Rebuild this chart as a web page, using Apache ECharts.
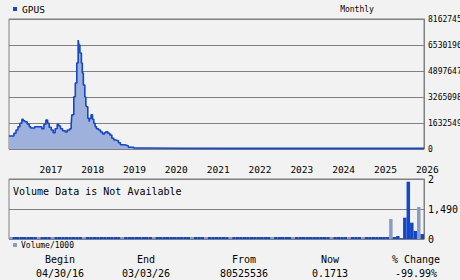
<!DOCTYPE html>
<html><head><meta charset="utf-8">
<script src="https://cdn.jsdelivr.net/npm/echarts@6/dist/echarts.min.js"></script>
<style>html,body{margin:0;padding:0;background:#f2f2f2;}#c{width:460px;height:280px;}</style>
</head><body><div id="c"></div>
<script>
// ---- data ----
const priceDates = ['2016-04-06','2016-05-19','2016-06-06','2016-06-23','2016-07-10','2016-07-28','2016-08-08','2016-08-23','2016-09-12','2016-09-30','2016-10-12','2016-11-16','2017-01-18','2017-02-05','2017-02-22','2017-03-09','2017-03-23','2017-04-10','2017-04-27','2017-05-14','2017-06-01','2017-06-13','2017-06-30','2017-07-18','2017-08-10','2017-08-27','2017-09-19','2017-10-01','2017-10-07','2017-10-24','2017-11-06','2017-11-19','2017-12-01','2017-12-07','2017-12-16','2017-12-29','2018-01-06','2018-01-15','2018-01-28','2018-02-06','2018-02-12','2018-02-23','2018-03-07','2018-03-13','2018-03-24','2018-04-05','2018-04-16','2018-04-28','2018-05-10','2018-05-28','2018-06-14','2018-07-02','2018-07-19','2018-07-30','2018-08-17','2018-09-03','2018-09-21','2018-10-08','2018-10-25','2018-11-18','2018-12-05','2019-01-10','2019-01-27','2019-02-13','2019-04-01','2019-08-01','2020-06-01','2021-06-01','2022-06-01','2023-06-01','2024-06-01','2025-06-01','2026-03-09'];
const priceValues = [8160000,9860000,11930000,14000000,16140000,18650000,17770000,17140000,15700000,14000000,13190000,14000000,12750000,15510000,18210000,16140000,13630000,11930000,10230000,12750000,15510000,14440000,12750000,11490000,10670000,11930000,12750000,15700000,21540000,32840000,41440000,54000000,68440000,65300000,60280000,54000000,47720000,40190000,32650000,27630000,26560000,19280000,17140000,19280000,21540000,18650000,16140000,14000000,12750000,11930000,10670000,9420000,10230000,10860000,9860000,8790000,6720000,5650000,5210000,3960000,2700000,2320000,1880000,1070000,600000,450000,400000,400000,400000,400000,400000,400000,400000];
const priceTicks = [0, 16325490, 32650980, 48976470, 65301960, 81627450];

const volumeStart = [2016, 4];   // first month of volume bars
const volumeValues = [
 100,100,100,100,100,100,100,100,100,100,100,100,
 100,100,100,100,100,100,100,100,100,100,100,100,
 100,100,100,100,100,100,100,100,100,100,100,100,
 100,100,100,100,100,100,100,100,100,100,100,100,
 100,100,100,100,100,100,100,100,100,100,100,100,
 100,100,100,100,100,100,100,100,100,100,100,100,
 100,100,100,100,100,100,100,100,100,100,100,100,
 100,100,100,100,100,100,100,100,100,100,100,100,
 100,100,100,100,100,100,100,100,100,100,100,100,
 100,993,100,149,40,1058,2846,810,397,1589,248];
const volumeDownMonths = ['2016-04','2016-12','2017-04','2018-01','2018-12','2019-09','2020-08','2020-12','2021-07','2022-07','2023-01','2023-12','2024-05','2024-09','2025-05','2026-01'];
const volumeTicks = [0, 1490, 2980];
const volumeTickLabels = ['0', '1,490', '2'];

const stats = [
  ['Begin', '04/30/16'],
  ['End', '03/03/26'],
  ['From', '80525536'],
  ['Now', '0.1713'],
  ['% Change', '-99.99%']
];
const statCenters = [60, 146, 244, 330, 416];

// ---- build ----
const BLUE = '#1446c8', AREA = '#9eb1dd', GRAYBAR = '#8a9bc6', GRID = '#808080';
const MONO = '"DejaVu Sans Mono", monospace';

const volumeMonths = [];
{
  let y = volumeStart[0], m = volumeStart[1];
  for (let i = 0; i < volumeValues.length; i++) {
    volumeMonths.push(y + '-' + String(m).padStart(2, '0'));
    m++; if (m > 12) { m = 1; y++; }
  }
}
const volData = volumeValues.map((v, i) => ({
  value: v,
  itemStyle: { color: volumeDownMonths.includes(volumeMonths[i]) ? GRAYBAR : BLUE }
}));

const chart = echarts.init(document.getElementById('c'), null, { renderer: 'svg' });
const YEAR = 365 * 24 * 3600 * 1000;

const graphics = [
  { type: 'rect', shape: { x: 13, y: 7, width: 4, height: 4 }, style: { fill: BLUE } },
  { type: 'text', x: 22, y: 9, style: { text: 'GPUS', font: '9.5px ' + MONO, fill: '#000', textVerticalAlign: 'middle' } },
  { type: 'text', x: 357, y: 9, style: { text: 'Monthly', font: '8px ' + MONO, fill: '#000', textAlign: 'center', textVerticalAlign: 'middle' } },
  { type: 'text', x: 13, y: 191, style: { text: 'Volume Data is Not Available', font: '10px ' + MONO, fill: '#000', textVerticalAlign: 'middle' } },
  { type: 'rect', shape: { x: 13, y: 243, width: 4, height: 4 }, style: { fill: GRAYBAR } },
  { type: 'text', x: 21, y: 245.5, style: { text: 'Volume/1000', font: '8px ' + MONO, fill: '#000', textVerticalAlign: 'middle' } }
];
stats.forEach((s, i) => {
  graphics.push({ type: 'text', x: statCenters[i], y: 259, style: { text: s[0], font: '10px ' + MONO, fill: '#000', textAlign: 'center', textVerticalAlign: 'middle' } });
  graphics.push({ type: 'text', x: statCenters[i], y: 273, style: { text: s[1], font: '10px ' + MONO, fill: '#000', textAlign: 'center', textVerticalAlign: 'middle' } });
});

chart.setOption({
  backgroundColor: '#f2f2f2',
  animation: false,
  grid: [
    { left: 9, top: 19, width: 415, height: 130, show: true, borderColor: GRID, borderWidth: 1, backgroundColor: 'transparent', containLabel: false, outerBoundsMode: 'none' },
    { left: 9, top: 179, width: 415, height: 60, show: true, borderColor: GRID, borderWidth: 1, backgroundColor: 'transparent', containLabel: false, outerBoundsMode: 'none' }
  ],
  xAxis: [
    {
      type: 'time', gridIndex: 0, min: '2016-04-06', max: '2026-03-09',
      minInterval: YEAR, maxInterval: YEAR * 1.01,
      axisLine: { show: false }, axisTick: { show: false }, splitLine: { show: false },
      axisLabel: {
        showMinLabel: false, showMaxLabel: false,
        margin: 15, color: '#000', fontSize: 9.5, fontFamily: MONO,
        padding: [0, 0, 0, 22],
        formatter: function (v) {
          const d = new Date(v);
          return (d.getMonth() === 0 && d.getDate() === 1) ? String(d.getFullYear()) : '';
        }
      }
    },
    {
      type: 'category', gridIndex: 1, data: volumeMonths, boundaryGap: true,
      axisLine: { show: false }, axisTick: { show: false }, axisLabel: { show: false }, splitLine: { show: false }
    }
  ],
  yAxis: [
    {
      type: 'value', gridIndex: 0, position: 'right', min: priceTicks[0], max: priceTicks[priceTicks.length - 1], interval: priceTicks[1] - priceTicks[0],
      axisLine: { show: true, lineStyle: { color: GRID } }, axisTick: { show: false },
      splitLine: { show: true, lineStyle: { color: GRID, width: 1 } },
      axisLabel: { margin: 4, color: '#000', fontSize: 8, fontFamily: MONO, formatter: v => String(v) }
    },
    {
      type: 'value', gridIndex: 1, position: 'right', min: volumeTicks[0], max: volumeTicks[2], interval: volumeTicks[1],
      axisLine: { show: true, lineStyle: { color: GRID } }, axisTick: { show: false },
      splitLine: { show: true, lineStyle: { color: GRID, width: 1 } },
      axisLabel: { margin: 4, color: '#000', fontSize: 10, fontFamily: MONO, formatter: v => volumeTickLabels[volumeTicks.indexOf(v)] }
    }
  ],
  series: [
    {
      type: 'line', xAxisIndex: 0, yAxisIndex: 0, step: 'end', showSymbol: false, clip: false,
      data: priceDates.map((d, i) => [d, priceValues[i]]),
      lineStyle: { color: BLUE, width: 1.6 },
      areaStyle: { color: AREA, opacity: 1 }
    },
    {
      type: 'bar', xAxisIndex: 1, yAxisIndex: 1, barCategoryGap: '0%',
      data: volData
    }
  ],
  graphic: graphics
});
</script>
</body></html>
